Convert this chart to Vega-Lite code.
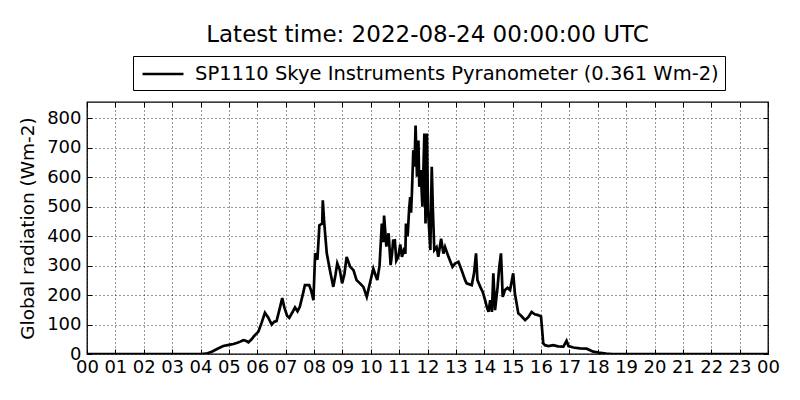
{
  "$schema": "https://vega.github.io/schema/vega-lite/v6.json",
  "description": "Global radiation from the SP1110 pyranometer over one day",
  "width": 681,
  "height": 252,
  "autosize": {"type": "none"},
  "padding": {"left": 87, "top": 102, "right": 32, "bottom": 46},
  "background": "white",
  "title": {
    "text": "Latest time: 2022-08-24 00:00:00 UTC",
    "font": "DejaVu Sans",
    "fontSize": 23,
    "fontWeight": "normal",
    "color": "black",
    "offset": 9
  },
  "config": {
    "font": "DejaVu Sans",
    "view": {"stroke": "black", "strokeWidth": 1.3}
  },
  "data": {
    "values": [
      {"hour": 0, "radiation": 0},
      {"hour": 4.0, "radiation": 0},
      {"hour": 4.2, "radiation": 1},
      {"hour": 4.4, "radiation": 8},
      {"hour": 4.6, "radiation": 18},
      {"hour": 4.8, "radiation": 27},
      {"hour": 5.0, "radiation": 31},
      {"hour": 5.16, "radiation": 34},
      {"hour": 5.3, "radiation": 38},
      {"hour": 5.4, "radiation": 42},
      {"hour": 5.51, "radiation": 47},
      {"hour": 5.6, "radiation": 45},
      {"hour": 5.69, "radiation": 40},
      {"hour": 5.8, "radiation": 50},
      {"hour": 5.9, "radiation": 62},
      {"hour": 6.04, "radiation": 76},
      {"hour": 6.15, "radiation": 105},
      {"hour": 6.27, "radiation": 140},
      {"hour": 6.38, "radiation": 125},
      {"hour": 6.51, "radiation": 100},
      {"hour": 6.6, "radiation": 110},
      {"hour": 6.68, "radiation": 112},
      {"hour": 6.78, "radiation": 150},
      {"hour": 6.88, "radiation": 190},
      {"hour": 6.95, "radiation": 160},
      {"hour": 7.05, "radiation": 130},
      {"hour": 7.13, "radiation": 123},
      {"hour": 7.23, "radiation": 140},
      {"hour": 7.33, "radiation": 158},
      {"hour": 7.42, "radiation": 145},
      {"hour": 7.5, "radiation": 160},
      {"hour": 7.6, "radiation": 200},
      {"hour": 7.68, "radiation": 234},
      {"hour": 7.83, "radiation": 234},
      {"hour": 7.9, "radiation": 215},
      {"hour": 7.98, "radiation": 183},
      {"hour": 8.04, "radiation": 342},
      {"hour": 8.12, "radiation": 320},
      {"hour": 8.19, "radiation": 437},
      {"hour": 8.29, "radiation": 443},
      {"hour": 8.31, "radiation": 522},
      {"hour": 8.36, "radiation": 446},
      {"hour": 8.45, "radiation": 342},
      {"hour": 8.56, "radiation": 285},
      {"hour": 8.68, "radiation": 228},
      {"hour": 8.76, "radiation": 270},
      {"hour": 8.82, "radiation": 308},
      {"hour": 8.91, "radiation": 285},
      {"hour": 8.99, "radiation": 240},
      {"hour": 9.07, "radiation": 270},
      {"hour": 9.15, "radiation": 330},
      {"hour": 9.27, "radiation": 297},
      {"hour": 9.39, "radiation": 285},
      {"hour": 9.5, "radiation": 251},
      {"hour": 9.62, "radiation": 240},
      {"hour": 9.74, "radiation": 228},
      {"hour": 9.86, "radiation": 194},
      {"hour": 9.94, "radiation": 228},
      {"hour": 10.09, "radiation": 290},
      {"hour": 10.16, "radiation": 270},
      {"hour": 10.23, "radiation": 251},
      {"hour": 10.31, "radiation": 300},
      {"hour": 10.39, "radiation": 443},
      {"hour": 10.44, "radiation": 380},
      {"hour": 10.47, "radiation": 470},
      {"hour": 10.55, "radiation": 365},
      {"hour": 10.63, "radiation": 410},
      {"hour": 10.7, "radiation": 302},
      {"hour": 10.75, "radiation": 340},
      {"hour": 10.79, "radiation": 385},
      {"hour": 10.85, "radiation": 386},
      {"hour": 10.9, "radiation": 317},
      {"hour": 10.97, "radiation": 330},
      {"hour": 11.04, "radiation": 372},
      {"hour": 11.1, "radiation": 330},
      {"hour": 11.16, "radiation": 352},
      {"hour": 11.22, "radiation": 341},
      {"hour": 11.24, "radiation": 443},
      {"hour": 11.3, "radiation": 400},
      {"hour": 11.35, "radiation": 488},
      {"hour": 11.39, "radiation": 533},
      {"hour": 11.42, "radiation": 480},
      {"hour": 11.45, "radiation": 545},
      {"hour": 11.5, "radiation": 692},
      {"hour": 11.54, "radiation": 636},
      {"hour": 11.58, "radiation": 776},
      {"hour": 11.63, "radiation": 602},
      {"hour": 11.68, "radiation": 725},
      {"hour": 11.71, "radiation": 568},
      {"hour": 11.76, "radiation": 625},
      {"hour": 11.82, "radiation": 500},
      {"hour": 11.89, "radiation": 749},
      {"hour": 11.93, "radiation": 443},
      {"hour": 11.98, "radiation": 749},
      {"hour": 12.02, "radiation": 488},
      {"hour": 12.1, "radiation": 353},
      {"hour": 12.15, "radiation": 636},
      {"hour": 12.19, "radiation": 488},
      {"hour": 12.24, "radiation": 353},
      {"hour": 12.32, "radiation": 363},
      {"hour": 12.38, "radiation": 330},
      {"hour": 12.48, "radiation": 392},
      {"hour": 12.56, "radiation": 341},
      {"hour": 12.62, "radiation": 363},
      {"hour": 12.74, "radiation": 330},
      {"hour": 12.88, "radiation": 296},
      {"hour": 12.97, "radiation": 307},
      {"hour": 13.09, "radiation": 313},
      {"hour": 13.2, "radiation": 285},
      {"hour": 13.33, "radiation": 250},
      {"hour": 13.38, "radiation": 240},
      {"hour": 13.56, "radiation": 234},
      {"hour": 13.64, "radiation": 274},
      {"hour": 13.71, "radiation": 342},
      {"hour": 13.76, "radiation": 251},
      {"hour": 13.86, "radiation": 228},
      {"hour": 13.95, "radiation": 210},
      {"hour": 14.03, "radiation": 183},
      {"hour": 14.09, "radiation": 160},
      {"hour": 14.15, "radiation": 143},
      {"hour": 14.21, "radiation": 183},
      {"hour": 14.27, "radiation": 143},
      {"hour": 14.32, "radiation": 274},
      {"hour": 14.38, "radiation": 149},
      {"hour": 14.47, "radiation": 228},
      {"hour": 14.53, "radiation": 296},
      {"hour": 14.59, "radiation": 342},
      {"hour": 14.65, "radiation": 194},
      {"hour": 14.73, "radiation": 217},
      {"hour": 14.82, "radiation": 225},
      {"hour": 14.91, "radiation": 217},
      {"hour": 15.02, "radiation": 274},
      {"hour": 15.08, "radiation": 206},
      {"hour": 15.2, "radiation": 138},
      {"hour": 15.3, "radiation": 130},
      {"hour": 15.44, "radiation": 115},
      {"hour": 15.55, "radiation": 125},
      {"hour": 15.67, "radiation": 143},
      {"hour": 15.78, "radiation": 135},
      {"hour": 15.9, "radiation": 132},
      {"hour": 16.0, "radiation": 128},
      {"hour": 16.08, "radiation": 36},
      {"hour": 16.14, "radiation": 30},
      {"hour": 16.26, "radiation": 27},
      {"hour": 16.43, "radiation": 30},
      {"hour": 16.6, "radiation": 26},
      {"hour": 16.79, "radiation": 25},
      {"hour": 16.9, "radiation": 45},
      {"hour": 16.97, "radiation": 27},
      {"hour": 17.14, "radiation": 22},
      {"hour": 17.37, "radiation": 19},
      {"hour": 17.61, "radiation": 18},
      {"hour": 17.84, "radiation": 8},
      {"hour": 18.02, "radiation": 5},
      {"hour": 18.3, "radiation": 1},
      {"hour": 18.5, "radiation": 0},
      {"hour": 24, "radiation": 0}
    ]
  },
  "layer": [
    {
      "mark": {"type": "line", "strokeWidth": 2.7, "clip": true},
      "encoding": {
        "x": {
          "field": "hour",
          "type": "quantitative",
          "scale": {"domain": [0, 24], "nice": false, "zero": false},
          "axis": {
            "orient": "bottom",
            "title": null,
            "values": [0, 1, 2, 3, 4, 5, 6, 7, 8, 9, 10, 11, 12, 13, 14, 15, 16, 17, 18, 19, 20, 21, 22, 23, 24],
            "format": "02d",
            "labelExpr": "datum.value == 24 ? '00' : datum.label",
            "labelFontSize": 18,
            "labelColor": "black",
            "labelFlush": false,
            "labelOverlap": false,
            "labelPadding": 9,
            "domain": false,
            "tickSize": -5,
            "tickColor": "black",
            "grid": true,
            "gridColor": "black",
            "gridDash": [1, 3],
            "gridWidth": 1,
            "gridOpacity": 0.8
          }
        },
        "y": {
          "field": "radiation",
          "type": "quantitative",
          "scale": {"domain": [0, 856], "nice": false},
          "axis": {
            "orient": "left",
            "title": "Global radiation (Wm-2)",
            "titleFontSize": 18.5,
            "titleFontWeight": "normal",
            "titleColor": "black",
            "titlePadding": 9,
            "values": [0, 100, 200, 300, 400, 500, 600, 700, 800],
            "labelFontSize": 18,
            "labelColor": "black",
            "labelPadding": 11,
            "labelFlush": false,
            "domain": false,
            "tickSize": -5,
            "tickColor": "black",
            "grid": true,
            "gridColor": "black",
            "gridDash": [1, 3],
            "gridWidth": 1,
            "gridOpacity": 0.8
          }
        },
        "color": {
          "datum": "SP1110 Skye Instruments Pyranometer (0.361 Wm-2)",
          "type": "nominal",
          "scale": {"range": ["black"]},
          "legend": {
            "title": null,
            "orient": "none",
            "legendX": 46,
            "legendY": -46,
            "labelFont": "DejaVu Sans",
            "labelFontSize": 19.5,
            "labelColor": "black",
            "labelOffset": 20,
            "labelLimit": 0,
            "symbolType": "M-2,0H2",
            "symbolStrokeWidth": 2.7,
            "symbolSize": 420,
            "symbolOffset": 12,
            "strokeColor": "black",
            "fillColor": "white",
            "padding": 6,
            "cornerRadius": 0
          }
        }
      }
    },
    {
      "mark": {"type": "line", "strokeOpacity": 0},
      "encoding": {
        "x": {
          "field": "hour",
          "type": "quantitative",
          "axis": {
            "orient": "top",
            "title": null,
            "values": [0, 1, 2, 3, 4, 5, 6, 7, 8, 9, 10, 11, 12, 13, 14, 15, 16, 17, 18, 19, 20, 21, 22, 23, 24],
            "labels": false,
            "domain": false,
            "grid": false,
            "tickSize": -5,
            "tickColor": "black"
          }
        },
        "y": {
          "field": "radiation",
          "type": "quantitative",
          "axis": {
            "orient": "right",
            "title": null,
            "values": [0, 100, 200, 300, 400, 500, 600, 700, 800],
            "labels": false,
            "domain": false,
            "grid": false,
            "tickSize": -5,
            "tickColor": "black"
          }
        }
      }
    }
  ],
  "resolve": {"axis": {"x": "independent", "y": "independent"}}
}
